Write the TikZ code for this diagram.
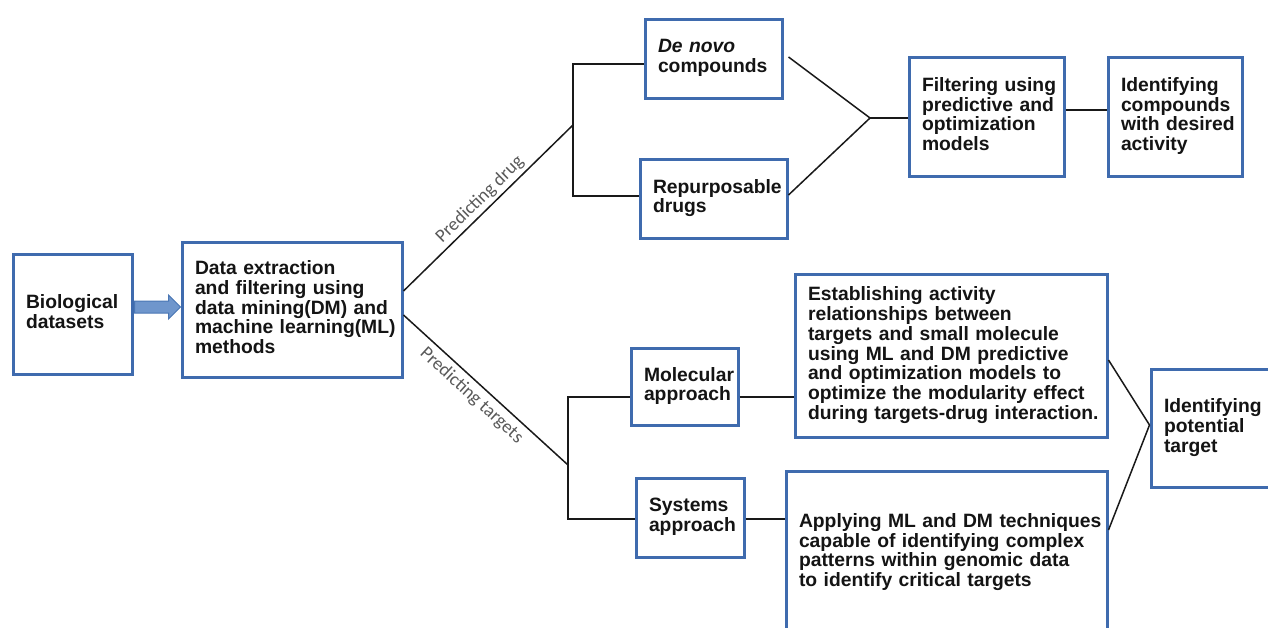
\documentclass[tikz,border=0pt]{standalone}
\usepackage{fontspec}
\setmainfont{Liberation Sans}
\newfontfamily\labelfont{Carlito}
\usetikzlibrary{calc}

\definecolor{boxblue}{HTML}{3F6BAE}
\definecolor{arrowfill}{HTML}{6F96CC}
\definecolor{arrowedge}{HTML}{4A76B4}
\definecolor{labelgray}{HTML}{595959}
\definecolor{inkblack}{HTML}{141414}

% fixed line breaks, left aligned, never hyphenated
\newcommand{\boxlines}[1]{\begin{tabular}{@{}l@{}}#1\end{tabular}}

\tikzset{
  box/.style={draw=boxblue, line width=3pt, fill=white, align=left,
    inner xsep=13pt, inner ysep=0pt, text=inkblack,
    font=\fontsize{19.3}{19.5}\selectfont\bfseries},
  conn/.style={draw=black!90, line width=1.5pt},
  lbl/.style={text=labelgray, font=\labelfont\fontsize{18.6}{20}\selectfont, inner sep=3pt},
  blockarrow/.style={draw=arrowedge, fill=arrowfill, line width=1pt, line join=miter}
}

\begin{document}
\begin{tikzpicture}[x=1pt, y=-1pt]
\useasboundingbox (0,0) rectangle (1268,628);
\clip (0,0) rectangle (1268,628);

% input and preprocessing
\node[box, minimum width=119pt, minimum height=119pt, text width=93pt] (bio) at (72.5,314.5)
  {\boxlines{Biological\\datasets}};
\node[box, minimum width=220pt, minimum height=134pt, text width=194pt] (data) at (292,310)
  {\boxlines{Data extraction\\and filtering using\\data mining(DM) and\\machine learning(ML)\\methods}};

% drug branch
\node[box, minimum width=137pt, minimum height=79pt, text width=111pt] (dn) at (713.5,59)
  {\boxlines{\textit{De novo}\\compounds}};
\node[box, minimum width=147pt, minimum height=79pt, text width=121pt] (rp) at (713.5,199)
  {\boxlines{Repurposable\\drugs}};
\node[box, minimum width=155pt, minimum height=119pt, text width=129pt] (filt) at (986.5,117)
  {\boxlines{Filtering using\\predictive and\\optimization\\models}};
\node[box, minimum width=134pt, minimum height=119pt, text width=108pt] (idc) at (1175,117)
  {\boxlines{Identifying\\compounds\\with desired\\activity}};

% target branch
\node[box, minimum width=107pt, minimum height=77pt, text width=81pt] (mol) at (684.5,387)
  {\boxlines{Molecular\\approach}};
\node[box, minimum width=108pt, minimum height=79pt, text width=82pt] (sys) at (690,518)
  {\boxlines{Systems\\approach}};
\node[box, minimum width=312pt, minimum height=163pt, text width=286pt] (est) at (951,356)
  {\boxlines{Establishing activity\\relationships between\\targets and small molecule\\using ML and DM predictive\\and optimization models to\\optimize the modularity effect\\during targets-drug interaction.}};
\node[box, minimum width=321pt, minimum height=163pt, text width=295pt] (app) at (946.5,553)
  {\boxlines{Applying ML and DM techniques\\capable of identifying complex\\patterns within genomic data\\to identify critical targets}};
\node[box, minimum width=139pt, minimum height=118pt, text width=113pt] (pot) at (1220.5,428.5)
  {\boxlines{Identifying\\potential\\target}};

% junction points
\coordinate (jd) at (573,125);
\coordinate (jt) at (568,465);
\coordinate (jf) at (870,118);
\coordinate (jp) at (pot.west |- 0,425);

% block arrow into the extraction step
\coordinate (atip) at (data.west |- 0,307);
\draw[blockarrow] (atip) -- ++(-12,-12) -- ++(0,6) -- ++(-34,0) -- ++(0,12)
  -- ++(34,0) -- ++(0,6) -- cycle;

% branches
\draw[conn] (data.east |- 0,291) -- node[lbl, sloped, above, pos=0.5] {Predicting drug} (jd);
\draw[conn] (data.east |- 0,315) -- node[lbl, sloped, below, pos=0.47, inner sep=5pt] {Predicting targets} (jt);

\draw[conn] (dn.west |- 0,64) -| (jd) |- (rp.west |- 0,196);
\draw[conn] (mol.west |- 0,397) -| (jt) |- (sys.west |- 0,519);

\draw[conn] ($(dn.east |- 0,57)+(5,0)$) -- (jf);
\draw[conn] (rp.east |- 0,195) -- (jf);
\draw[conn] (jf) -- (filt.west |- jf);
\draw[conn] (filt.east |- 0,110) -- (idc.west |- 0,110);

\draw[conn] (mol.east |- 0,397) -- (est.west |- 0,397);
\draw[conn] (sys.east |- 0,519) -- (app.west |- 0,519);
\draw[conn] (est.east |- 0,360) -- (jp);
\draw[conn] (app.east |- 0,530) -- (jp);
\end{tikzpicture}
\end{document}
